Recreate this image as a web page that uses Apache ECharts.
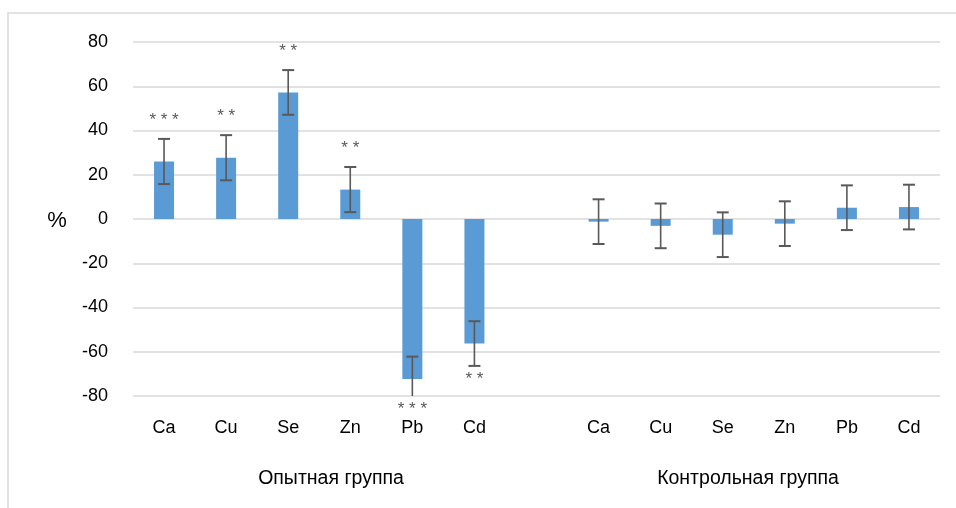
<!DOCTYPE html>
<html><head><meta charset="utf-8">
<script src="https://cdn.jsdelivr.net/npm/echarts@6/dist/echarts.min.js"></script>
<style>html,body{margin:0;padding:0;background:#fff}#c{width:956px;height:508px}</style>
</head><body><div id="c"></div>
<script>
var elements = ['Ca','Cu','Se','Zn','Pb','Cd'];
var groupNames = ['Опытная группа','Контрольная группа'];
var expValues = [26, 27.7, 57.2, 13.3, -72.3, -56.3];
var expErrors = [10.2, 10.2, 10.1, 10.2, 10.1, 10.1];
var expStars = ['***','**','**','**','***','**'];
var ctrlValues = [-1.2, -3.1, -7.1, -2.1, 5.1, 5.4];
var ctrlErrors = [10.1, 10.1, 10.1, 10.1, 10.1, 10.1];
var ctrlStars = ['','','','','',''];
var yTicks = [-80,-60,-40,-20,0,20,40,60,80];

var cats = elements.concat(['']).concat(elements);
var catKeys = cats.map(function(c,i){return i+'';});
var values = expValues.concat(['-']).concat(ctrlValues);
var errors = expErrors.concat([null]).concat(ctrlErrors);
var stars = expStars.concat(['']).concat(ctrlStars);

var errData = [], starData = [];
for (var i=0;i<values.length;i++){
  if (values[i]==='-') continue;
  errData.push([i, values[i], errors[i]]);
  if (stars[i]) starData.push([i, values[i], errors[i], stars[i]]);
}

var chart = echarts.init(document.getElementById('c'));
var FONT = '"Liberation Sans", "Noto Sans", sans-serif';
chart.setOption({
  animation:false,
  backgroundColor:'#fff',
  grid:{left:133,right:16,top:42,bottom:112},
  graphic:[
    {type:'rect',shape:{x:8,y:13,width:960,height:520},style:{fill:'none',stroke:'#D9D9D9',lineWidth:1.5},silent:true,z:-1},
    {type:'text',x:57,y:221,style:{text:'%',font:'22px '+FONT,fill:'#000',align:'center',verticalAlign:'middle'}},
    {type:'text',x:331,y:479,style:{text:groupNames[0],font:'19.5px '+FONT,fill:'#000',align:'center',verticalAlign:'middle'}},
    {type:'text',x:748,y:479,style:{text:groupNames[1],font:'19.5px '+FONT,fill:'#000',align:'center',verticalAlign:'middle'}}
  ],
  xAxis:{type:'category',data:catKeys,
    axisLine:{show:false},axisTick:{show:false},
    axisLabel:{interval:0,margin:23,color:'#000',fontSize:18,fontFamily:FONT,
      formatter:function(v){return cats[+v];}}},
  yAxis:{type:'value',min:-80,max:80,interval:20,
    axisLine:{show:false},axisTick:{show:false},
    splitLine:{lineStyle:{color:'#D9D9D9',width:1.5}},
    axisLabel:{margin:25,color:'#000',fontSize:18,fontFamily:FONT}},
  series:[
    {type:'bar',data:values,barWidth:20,itemStyle:{color:'#5B9BD5'},z:2},
    {type:'custom',z:3,data:errData,
      renderItem:function(params,api){
        var cs=params.coordSys;
        var x=api.coord([api.value(0),0])[0];
        var v=api.value(1),e=api.value(2);
        var yTop=api.coord([api.value(0),v+e])[1];
        var yBot=api.coord([api.value(0),v-e])[1];
        var yMin=cs.y, yMax=cs.y+cs.height;
        var t=Math.max(yTop,yMin), b=Math.min(yBot,yMax);
        var ch=[{type:'line',shape:{x1:x,y1:t,x2:x,y2:b},style:{stroke:'#595959',lineWidth:1.6}}];
        if(yTop>=yMin) ch.push({type:'line',shape:{x1:x-6,y1:yTop,x2:x+6,y2:yTop},style:{stroke:'#595959',lineWidth:2}});
        if(yBot<=yMax) ch.push({type:'line',shape:{x1:x-6,y1:yBot,x2:x+6,y2:yBot},style:{stroke:'#595959',lineWidth:2}});
        return {type:'group',children:ch};
      }},
    {type:'custom',z:4,data:starData,
      renderItem:function(params,api){
        var x=api.coord([api.value(0),0])[0];
        var v=api.value(1),e=api.value(2);
        var txt=starData[params.dataIndex][3].split('').join(' ');
        var y;
        if(v>=0){ y=api.coord([api.value(0),v+e])[1]-19; }
        else { y=Math.min(api.coord([api.value(0),v-e])[1],params.coordSys.y+params.coordSys.height)+13; }
        return {type:'text',style:{text:txt,x:x,y:y,align:'center',verticalAlign:'middle',font:'17px '+FONT,fill:'#595959'}};
      }}
  ]
});
</script></body></html>
